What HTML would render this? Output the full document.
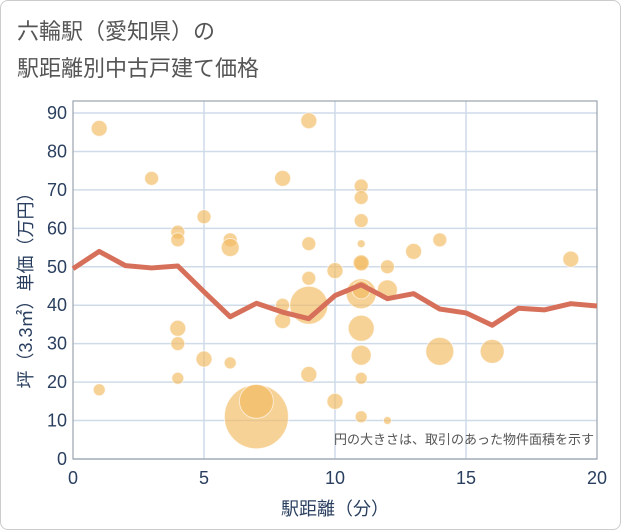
<!DOCTYPE html>
<html><head><meta charset="utf-8"><style>
html,body{margin:0;padding:0;background:#fff}
#wrap{width:619px;height:528px;border:1px solid #ccc;border-radius:8px;position:relative;overflow:hidden;font-family:"Liberation Sans","Noto Sans CJK JP",sans-serif}
</style></head><body>
<div id="wrap">
<svg id="svg" width="621" height="530" style="position:absolute;left:-1px;top:-1px">
<text x="17" y="39" font-size="22" fill="#555">六輪駅（愛知県）の</text>
<text x="17" y="76" font-size="22" fill="#555">駅距離別中古戸建て価格</text>
</svg>
</div>
<script>
const bubX=[1,3,4,4,4,4,4,1,5,5,6,6,6,7,7,8,8,8,9,9,9,9,9,10,10,11,11,11,11,11,11,11,11,11,11,11,11,12,12,12,13,14,14,16,19];
const bubY=[86,73,59,57,34,30,21,18,63,26,57,55,25,11,15,73,40,36,88,56,47,40,22,49,15,71,68,62,56,51,51,43,44,34,27,21,11,50,44,10,54,57,28,28,52];
const bubR=[8,7,7,7,8,7,6,6,7,8,7,9,6,32,17,8,7,8,8,7,7,19,8,8,8,7,7,7,4,7,8,15,9,13,10,6,6,7,10,4,8,7,14,12,8];
const lineX=[0,1,2,3,4,5,6,7,8,9,10,11,12,13,14,15,16,17,18,19,20];
const lineY=[49.5,54,50.3,49.7,50.2,43.5,37,40.5,38.2,36.5,42.5,45.3,41.7,43,39,38,34.8,39.2,38.8,40.4,39.8];
const xTicks=[0,5,10,15,20];
const yTicks=[0,10,20,30,40,50,60,70,80,90];
const NS="http://www.w3.org/2000/svg";
const svg=document.getElementById('svg');
const L=73,R=597,T=101,B=459;
const sx=v=>L+(v/20)*(R-L);
const sy=v=>B-(v/90)*(B-113);
function mk(t,a){const e=document.createElementNS(NS,t);for(const k in a)e.setAttribute(k,a[k]);svg.appendChild(e);return e;}
yTicks.forEach(v=>{
 const g=mk('line',{x1:L,x2:R,y1:sy(v),y2:sy(v),stroke:'#cfdbe8','stroke-width':1.5});
 
 
 const t=mk('text',{x:L-6,y:sy(v)+6,'font-size':18,fill:'#2a3f5f','text-anchor':'end'});t.textContent=v;
 
 
});
xTicks.forEach(v=>{
 if(v>0&&v<20){const g=mk('line',{x1:sx(v),x2:sx(v),y1:T,y2:B,stroke:'#cfdbe8','stroke-width':1.5});
 
 }
 const t=mk('text',{x:sx(v),y:B+25,'font-size':18,fill:'#2a3f5f','text-anchor':'middle'});t.textContent=v;
 
 
});
const fr=mk('rect',{x:L,y:T,width:R-L,height:B-T,fill:'none',stroke:'#9aa3ad','stroke-width':1.2});


bubX.forEach((x,i)=>{
 const c=mk('circle',{cx:sx(x),cy:sy(bubY[i]),r:bubR[i],fill:'rgba(242,186,95,0.65)',stroke:'rgba(255,255,255,0.6)','stroke-width':1});
 
 
});
const pl=mk('polyline',{points:lineX.map((x,i)=>sx(x)+','+sy(lineY[i])).join(' '),fill:'none',stroke:'#d6705a','stroke-width':5,'stroke-linejoin':'round'});


const note=mk('text',{x:594,y:444,'font-size':13,fill:'#555','text-anchor':'end'});note.textContent='円の大きさは、取引のあった物件面積を示す';


const xt=mk('text',{x:(L+R)/2,y:515,'font-size':18,fill:'#2a3f5f','text-anchor':'middle'});xt.textContent='駅距離（分）';


const yt=mk('text',{x:0,y:0,'font-size':18,fill:'#2a3f5f','text-anchor':'middle',transform:'translate(32,'+((T+B)/2+6)+') rotate(-90)'});yt.textContent='坪（3.3㎡）単価（万円）';


</script>
</body></html>
